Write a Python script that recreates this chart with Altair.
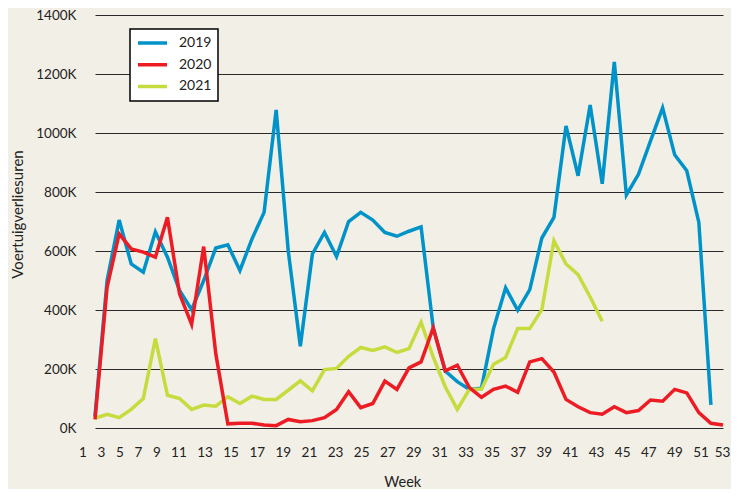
import altair as alt
import pandas as pd

# ---- data (values in thousands of vehicle-loss-hours) ----
weeks_2019 = list(range(1, 53))
values_2019 = [40, 500, 705, 556, 528, 665, 579, 466, 401, 500,
               610, 621, 534, 641, 731, 1078, 601, 277, 590, 663,
               581, 700, 731, 705, 663, 650, 667, 682, 342, 193,
               157, 131, 135, 337, 475, 399, 469, 644, 714, 1024,
               855, 1095, 828, 1241, 790, 860, 973, 1085, 926, 872,
               697, 78]

weeks_2020 = list(range(1, 54))
values_2020 = [29, 477, 658, 607, 596, 579, 714, 455, 351, 615,
               252, 14, 16, 16, 10, 8, 29, 21, 25, 35,
               63, 123, 69, 83, 159, 131, 204, 224, 339, 194,
               213, 137, 104, 131, 142, 121, 224, 235, 190, 97,
               72, 52, 47, 72, 52, 59, 95, 91, 131, 119,
               52, 16, 10]

weeks_2021 = list(range(1, 44))
values_2021 = [33, 46, 35, 63, 100, 303, 111, 100, 63, 78,
               74, 106, 83, 108, 97, 97, 128, 160, 126, 198,
               202, 243, 273, 263, 275, 256, 269, 359, 241, 140,
               63, 131, 131, 216, 239, 337, 337, 401, 635, 556,
               520, 444, 362]

series_names = ["2019", "2020", "2021"]
series_colors = ["#0093c9", "#ed1c24", "#c6dc3e"]
tick_weeks = list(range(1, 54, 2))
y_ticks = list(range(0, 1401, 200))

rows = []
for name, wks, vals in [("2019", weeks_2019, values_2019),
                        ("2020", weeks_2020, values_2020),
                        ("2021", weeks_2021, values_2021)]:
    for w, v in zip(wks, vals):
        rows.append({"week": w, "value": v, "series": name})
df = pd.DataFrame(rows)
tick_df = pd.DataFrame({"week": tick_weeks})

W, H = 641, 413

color = alt.Color(
    "series:N",
    scale=alt.Scale(domain=series_names, range=series_colors),
    legend=alt.Legend(
        title=None, orient="none", legendX=42, legendY=14,
        direction="vertical", fillColor="white", strokeColor="black",
        padding=6, symbolType="stroke", symbolSize=841,
        symbolStrokeWidth=3.5, clipHeight=16, rowPadding=5.7,
        labelOffset=10, labelFontSize=14, labelColor="#222",
        labelExpr="datum.label + '\u00a0\u00a0\u00a0\u00a0'",
    ),
)

x_line = alt.X("week:Q", scale=alt.Scale(domain=[1, 53], range=[7, 635],
                                         nice=False, zero=False), axis=None)
y_enc = alt.Y(
    "value:Q",
    scale=alt.Scale(domain=[0, 1400], nice=False),
    axis=alt.Axis(
        values=y_ticks, labelExpr="datum.value + 'K'",
        title="Voertuigverliesuren", grid=True, gridColor="#2a2a2a",
        gridWidth=1, ticks=False, tickSize=0, domain=False,
        labelPadding=12, labelFontSize=13.5, labelColor="#222",
        titleFontSize=15, titleFontWeight="normal", titleColor="#222",
        titleX=-71, titleY=199, titleAngle=270, titleBaseline="middle",
        titleAlign="center",
    ),
)


def series_line(name):
    return (
        alt.Chart(df)
        .transform_filter(alt.datum.series == name)
        .mark_line(strokeWidth=3.5, strokeJoin="miter")
        .encode(x=x_line, y=y_enc, color=color)
    )


lines = alt.layer(series_line("2019"), series_line("2021"), series_line("2020"))

axis_layer = alt.Chart(tick_df).mark_point(opacity=0).encode(
    x=alt.X(
        "week:Q",
        scale=alt.Scale(domain=[1, 9, 11, 51, 53],
                        range=[-5.5, 68.3, 90.4, 612.5, 634],
                        nice=False, zero=False),
        axis=alt.Axis(
            values=tick_weeks, title="Week", grid=False, ticks=False,
            tickSize=0, domain=False, labelPadding=24,
            labelBaseline="middle", labelFontSize=13.5, labelColor="#222",
            labelFlush=False, labelOverlap=False,
            titleFontSize=14.5, titleFontWeight="normal", titleColor="#222",
            titleY=54, titleBaseline="middle",
        ),
    )
)

chart = (
    alt.layer(lines, axis_layer)
    .resolve_scale(x="independent")
    .properties(
        width=W, height=H,
        autosize=alt.AutoSizeParams(type="none"),
        padding={"left": 80, "top": 7, "right": 2, "bottom": 61},
        background="#f2efe6",
    )
    .configure(font="Lato")
    .configure_view(strokeWidth=0)
    .configure_legend(strokeWidth=1.5)
)

chart.save("out.html", embed_options={"renderer": "svg", "actions": False})
